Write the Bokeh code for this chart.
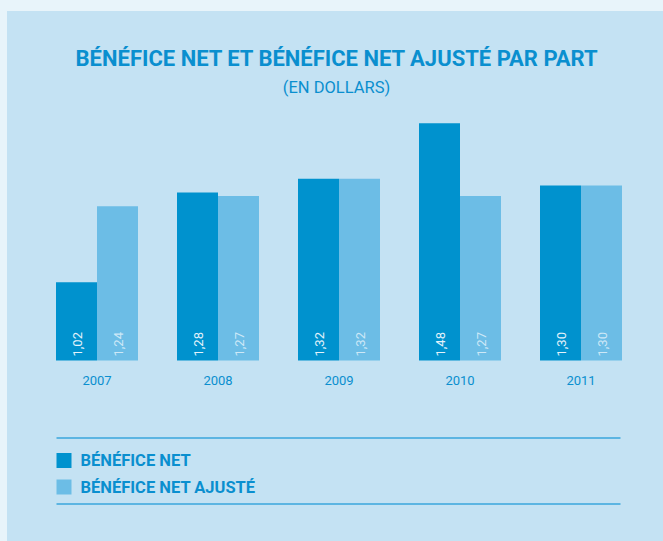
from bokeh.plotting import figure
from bokeh.models import (Range1d, Label, BoxAnnotation, ColumnDataSource,
                          GlobalInlineStyleSheet)
from bokeh.core.properties import value
from bokeh.embed import file_html
from bokeh.resources import INLINE
import math

# ---- data ----
years = [2007, 2008, 2009, 2010, 2011]
year_labels = ["2007", "2008", "2009", "2010", "2011"]
benefice_net = [1.02, 1.28, 1.32, 1.48, 1.30]
benefice_ajuste = [1.24, 1.27, 1.32, 1.27, 1.30]
title_text = "BÉNÉFICE NET ET BÉNÉFICE NET AJUSTÉ PAR PART"
subtitle_text = "(EN DOLLARS)"
legend_labels = ["BÉNÉFICE NET", "BÉNÉFICE NET AJUSTÉ"]

# ---- style / layout ----
C_NET = "#0092ce"
C_ADJ = "#6cbde6"
C_PANEL = "#c4e2f3"
C_OUTER = "#e8f4fa"
C_TEXT = "#0a8fcf"
C_LINE = "#5cb5e2"
FONT = "Roboto"
W, H = 663, 541
X_FIRST, X_STEP = 96.5, 121.0      # page px of first group centre, px per year
BASE_Y, PX_PER_UNIT = 360, 345.7   # page px of bar baseline, px per dollar
Y0 = 0.794                          # value at the bar baseline
BW = 41 / X_STEP                    # bar width in years

def fmt(v):
    return f"{v:.2f}".replace(".", ",")

src = ColumnDataSource(dict(
    x_net=[y - BW / 2 for y in years], x_adj=[y + BW / 2 for y in years], x=years,
    net=benefice_net, adj=benefice_ajuste, lbl=year_labels,
    net_lbl=[fmt(v) for v in benefice_net], adj_lbl=[fmt(v) for v in benefice_ajuste],
    base=[Y0] * len(years),
))

x0 = years[0] - X_FIRST / X_STEP
y_lo = Y0 - (H - BASE_Y) / PX_PER_UNIT
p = figure(width=W, height=H,
           x_range=Range1d(x0, x0 + W / X_STEP),
           y_range=Range1d(y_lo, y_lo + H / PX_PER_UNIT),
           output_backend="svg", toolbar_location=None, min_border=0)
p.background_fill_alpha = 0
p.border_fill_alpha = 0
p.outline_line_color = None
p.grid.grid_line_color = None
p.axis.visible = False

p.vbar(x="x_net", top="net", bottom="base", width=BW, source=src,
       fill_color=C_NET, line_color=None)
p.vbar(x="x_adj", top="adj", bottom="base", width=BW, source=src,
       fill_color=C_ADJ, line_color=None)

p.text(x="x_net", y="base", text="net_lbl", source=src,
       angle=math.pi / 2, text_align="left", text_baseline="middle", x_offset=1, y_offset=-4,
       text_font=value(FONT), text_font_size="13px", text_color="#e4f3fb")
p.text(x="x_adj", y="base", text="adj_lbl", source=src,
       angle=math.pi / 2, text_align="left", text_baseline="middle", x_offset=1, y_offset=-4,
       text_font=value(FONT), text_font_size="13px", text_color="#cde8f7")
# category (year) labels under the groups
p.text(x="x", y="base", text="lbl", source=src, text_align="center",
       text_baseline="middle", y_offset=20, text_font=value(FONT),
       text_font_size="13px", text_color=C_TEXT)

# screen units: measured from the frame's bottom-left (= canvas here)
def sy(page_y):
    return H - page_y

def sx(page_x):
    return page_x

p.add_layout(Label(x=sx(337), y=sy(58), x_units="screen", y_units="screen", text=title_text,
                   text_align="center", text_baseline="middle", text_font=FONT,
                   text_font_style="bold", text_font_size="22px", text_color=C_TEXT))
p.add_layout(Label(x=sx(336), y=sy(87), x_units="screen", y_units="screen", text=subtitle_text,
                   text_align="center", text_baseline="middle", text_font=FONT,
                   text_font_size="16.5px", text_color=C_TEXT))

def box(l, r, t, b, col):
    p.add_layout(BoxAnnotation(left=sx(l), right=sx(r), top=sy(t), bottom=sy(b),
                               left_units="screen", right_units="screen", top_units="screen",
                               bottom_units="screen", fill_color=col, fill_alpha=1,
                               line_color=None))

for py in (437.5, 503.5):
    box(56, 620, py - 1, py + 1, C_LINE)
for lab, col, py in zip(legend_labels, [C_NET, C_ADJ], [460, 486.5]):
    box(56, 71, py - 7.5, py + 7.5, col)
    p.add_layout(Label(x=sx(80), y=sy(py), x_units="screen", y_units="screen", text=lab,
                       text_align="left", text_baseline="middle", text_font=FONT,
                       text_font_style="bold", text_font_size="16.5px", text_color=C_TEXT))

p.stylesheets = [GlobalInlineStyleSheet(css=(
    "body{background:linear-gradient(%s,%s) 7px 11px / 100%% 100%% no-repeat, %s;}"
    % (C_PANEL, C_PANEL, C_OUTER)))]

open("out.html", "w").write(file_html(p, INLINE))
